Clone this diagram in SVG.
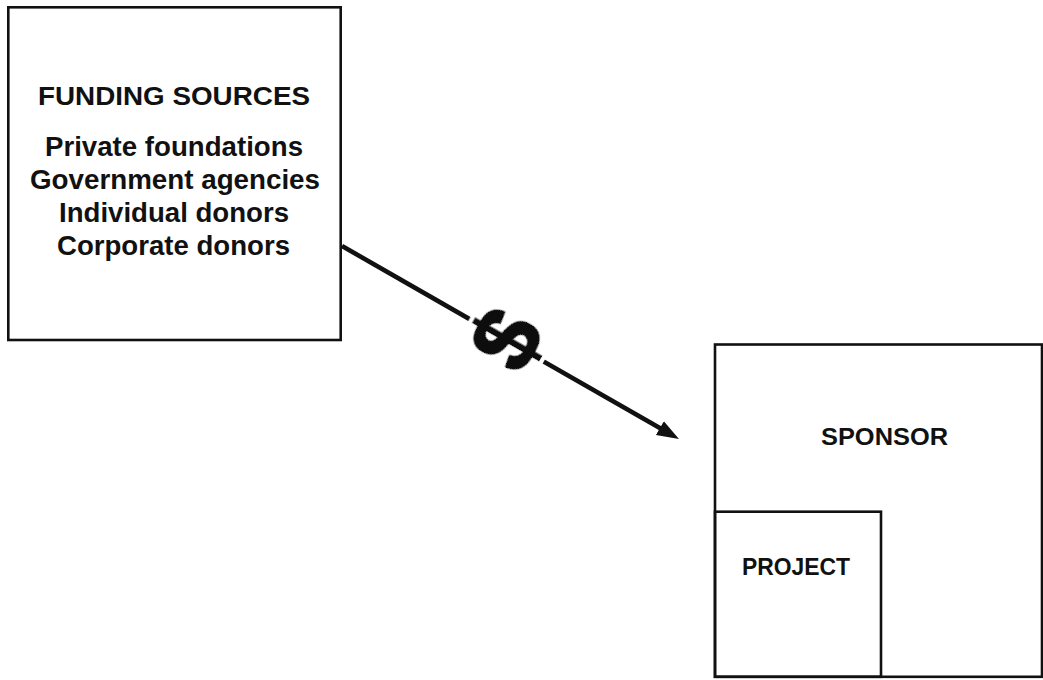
<svg xmlns="http://www.w3.org/2000/svg" width="1043" height="680" viewBox="0 0 1043 680">
  <style>
    .box { fill: none; stroke: #111; stroke-width: 2.6; }
    .t { font-family: "Liberation Sans", Arial, Helvetica, sans-serif; font-weight: bold; fill: #111; text-anchor: middle; }
    .title { font-size: 26px; }
    .item { font-size: 27px; }
    .lbl { font-size: 24px; }
    .conn { fill: none; stroke: #111; stroke-width: 4.6; stroke-linecap: butt; }
    .dollar { font-family: "Liberation Sans", Arial, Helvetica, sans-serif; font-weight: bold; font-size: 92px; fill: #111; text-anchor: middle; filter: url(#heavy); }
  </style>
  <defs>
    <marker id="ah" markerUnits="userSpaceOnUse" markerWidth="24" markerHeight="18" refX="10.5" refY="8" orient="auto">
      <path d="M0,0 L22,8 L0,16 z" fill="#111"/>
    </marker>
    <filter id="heavy" x="-30%" y="-30%" width="160%" height="160%">
      <feMorphology in="SourceAlpha" operator="dilate" radius="5" result="halo"/>
      <feFlood flood-color="#ffffff"/>
      <feComposite in2="halo" operator="in" result="white"/>
      <feMorphology in="SourceAlpha" operator="dilate" radius="0.9" result="thick"/>
      <feFlood flood-color="#111111"/>
      <feComposite in2="thick" operator="in" result="black"/>
      <feMerge><feMergeNode in="white"/><feMergeNode in="black"/></feMerge>
    </filter>
  </defs>
  <rect width="1043" height="680" fill="#fff"/>

  <g id="funding-sources">
    <rect class="box" x="8.3" y="7.3" width="332.4" height="332.7"/>
    <text class="t title" x="174" y="105" textLength="272" lengthAdjust="spacingAndGlyphs">FUNDING SOURCES</text>
    <text class="t item" x="174" y="156" textLength="258" lengthAdjust="spacingAndGlyphs">Private foundations</text>
    <text class="t item" x="175" y="189" textLength="290" lengthAdjust="spacingAndGlyphs">Government agencies</text>
    <text class="t item" x="174" y="222" textLength="230" lengthAdjust="spacingAndGlyphs">Individual donors</text>
    <text class="t item" x="173.5" y="255" textLength="233" lengthAdjust="spacingAndGlyphs">Corporate donors</text>
  </g>

  <g id="sponsor">
    <rect class="box" x="715" y="344.5" width="327" height="332.3"/>
    <text class="t lbl" x="884.5" y="445" textLength="127" lengthAdjust="spacingAndGlyphs">SPONSOR</text>
  </g>

  <g id="project">
    <rect class="box" x="715" y="511.7" width="166" height="165.1"/>
    <text class="t lbl" x="796" y="575" font-size="23" textLength="108" lengthAdjust="spacingAndGlyphs">PROJECT</text>
  </g>

  <g id="connectors">
    <path class="conn" d="M342,246 L669,433.3" marker-end="url(#ah)"/>
    <g transform="translate(506,339) rotate(-60.2)">
      <text class="dollar" x="0" y="32">$</text>
    </g>
  </g>
</svg>
